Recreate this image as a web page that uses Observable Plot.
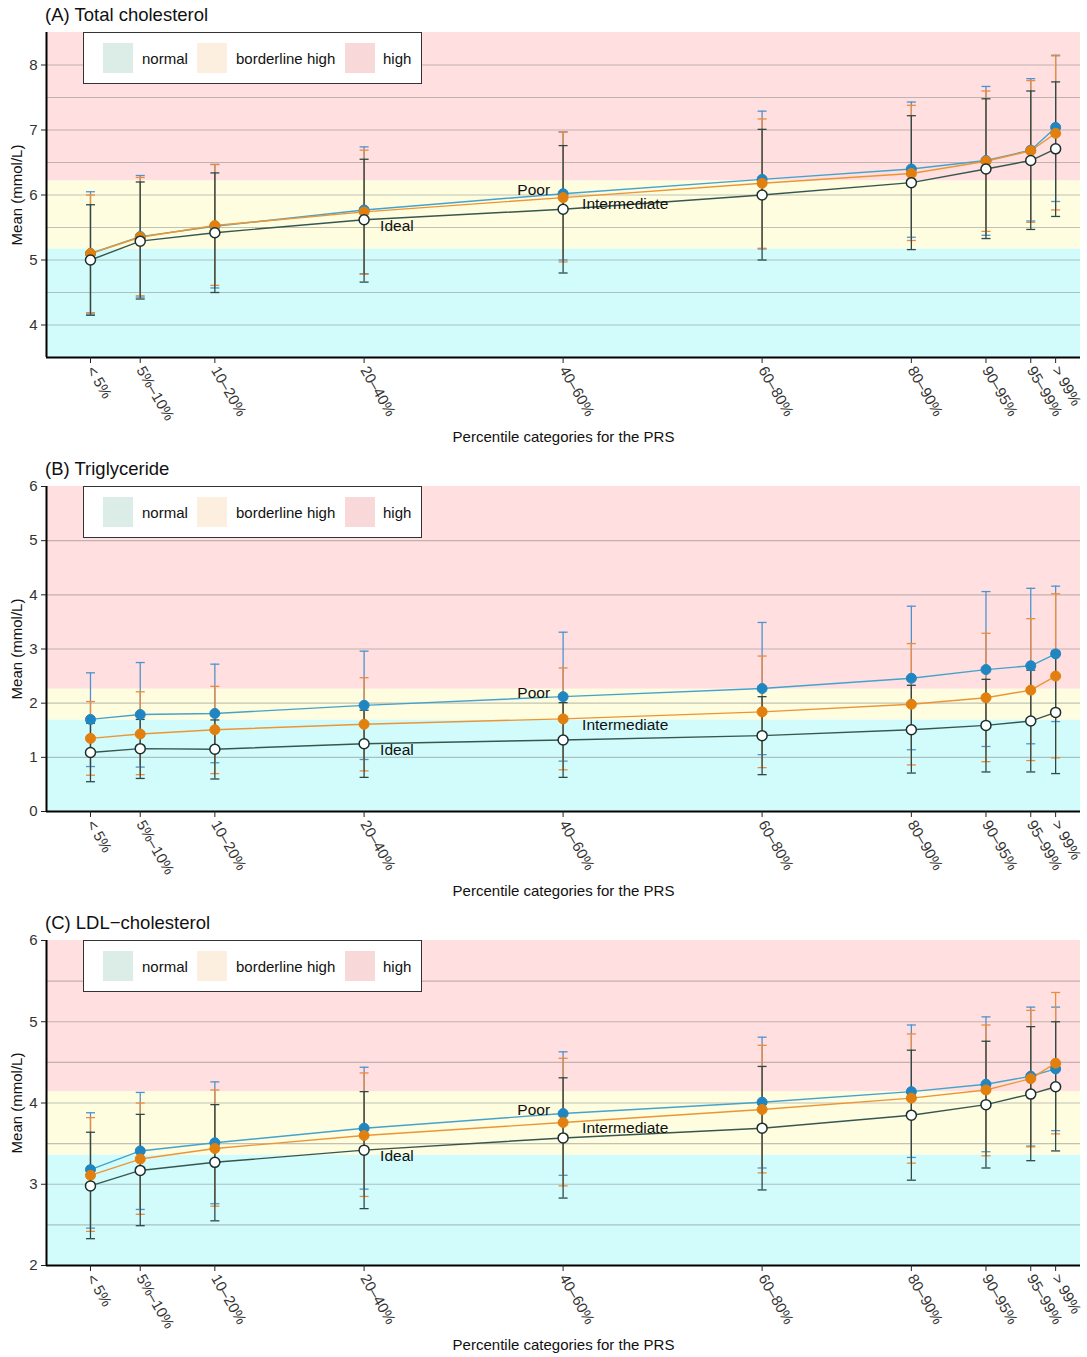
<!DOCTYPE html>
<html>
<head>
<meta charset="utf-8">
<script src="https://cdn.jsdelivr.net/npm/d3@7"></script>
<script src="https://cdn.jsdelivr.net/npm/@observablehq/plot@0.6"></script>
<style>
  html, body { margin: 0; padding: 0; background: #fff; }
  body { width: 1087px; font-family: "Liberation Sans", Arial, Helvetica, sans-serif; }
  .panel { position: relative; width: 1087px; height: 454px; }
  .ptitle { position: absolute; left: 45px; top: 3px; font-size: 18.5px; line-height: 24px; color: #111; }
  .legend { position: absolute; left: 83px; top: 32px; width: 337px; height: 50px; border: 1.5px solid #333; background: #fff; box-sizing: content-box; }
  .sw { position: absolute; top: 10px; width: 30px; height: 30px; }
  .lt { position: absolute; top: 0; line-height: 51px; font-size: 15px; color: #111; }
  .pchart g[aria-label="y-axis tick label"], .pchart g[aria-label="x-axis tick label"] { font-size: 15px; fill: #333; }
  .pchart g[aria-label="y-axis label"], .pchart g[aria-label="x-axis label"] { font-size: 15px; fill: #111; }
</style>
</head>
<body>
<div id="root"></div>
<script>
// ---------- data ----------
const categories = ["< 5%", "5%–10%", "10–20%", "20–40%", "40–60%", "60–80%", "80–90%", "90–95%", "95–99%", "> 99%"];
const categoryPos = [2.5, 7.5, 15, 30, 50, 70, 85, 92.5, 97, 99.5];
const seriesNames = ["Poor", "Intermediate", "Ideal"];

// (A) Total cholesterol
const tcPoorMean = [5.10, 5.36, 5.52, 5.77, 6.02, 6.24, 6.40, 6.53, 6.69, 7.04];
const tcPoorHi   = [6.05, 6.30, 6.47, 6.74, 6.97, 7.29, 7.43, 7.67, 7.79, 8.15];
const tcPoorLo   = [4.17, 4.43, 4.57, 4.79, 5.00, 5.17, 5.35, 5.38, 5.60, 5.90];
const tcIntMean  = [5.10, 5.35, 5.53, 5.74, 5.96, 6.18, 6.33, 6.52, 6.68, 6.95];
const tcIntHi    = [6.00, 6.27, 6.47, 6.69, 6.97, 7.17, 7.38, 7.60, 7.76, 8.14];
const tcIntLo    = [4.19, 4.45, 4.61, 4.78, 4.97, 5.18, 5.30, 5.44, 5.58, 5.77];
const tcIdeMean  = [5.00, 5.29, 5.42, 5.62, 5.78, 6.00, 6.19, 6.40, 6.53, 6.71];
const tcIdeHi    = [5.85, 6.20, 6.34, 6.55, 6.76, 7.01, 7.22, 7.48, 7.60, 7.74];
const tcIdeLo    = [4.15, 4.40, 4.50, 4.66, 4.80, 5.00, 5.16, 5.33, 5.47, 5.67];

// (B) Triglyceride
const tgPoorMean = [1.70, 1.79, 1.81, 1.96, 2.12, 2.27, 2.46, 2.62, 2.69, 2.91];
const tgPoorHi   = [2.56, 2.75, 2.72, 2.96, 3.31, 3.49, 3.79, 4.06, 4.12, 4.16];
const tgPoorLo   = [0.83, 0.82, 0.90, 0.96, 0.93, 1.05, 1.14, 1.20, 1.25, 1.66];
const tgIntMean  = [1.35, 1.43, 1.51, 1.61, 1.71, 1.84, 1.98, 2.10, 2.24, 2.50];
const tgIntHi    = [2.03, 2.21, 2.31, 2.47, 2.65, 2.87, 3.10, 3.29, 3.56, 4.02];
const tgIntLo    = [0.67, 0.68, 0.70, 0.75, 0.77, 0.81, 0.86, 0.92, 0.94, 0.99];
const tgIdeMean  = [1.09, 1.16, 1.15, 1.25, 1.32, 1.40, 1.51, 1.59, 1.67, 1.83];
const tgIdeHi    = [1.63, 1.70, 1.69, 1.87, 2.01, 2.12, 2.33, 2.44, 2.61, 2.96];
const tgIdeLo    = [0.55, 0.61, 0.60, 0.63, 0.63, 0.68, 0.71, 0.73, 0.73, 0.70];

// (C) LDL-cholesterol
const ldlPoorMean = [3.18, 3.41, 3.51, 3.69, 3.87, 4.01, 4.14, 4.23, 4.33, 4.42];
const ldlPoorHi   = [3.88, 4.13, 4.26, 4.44, 4.63, 4.81, 4.96, 5.06, 5.18, 5.18];
const ldlPoorLo   = [2.46, 2.69, 2.76, 2.94, 3.11, 3.20, 3.33, 3.40, 3.47, 3.66];
const ldlIntMean  = [3.11, 3.31, 3.44, 3.60, 3.76, 3.92, 4.06, 4.16, 4.30, 4.49];
const ldlIntHi    = [3.82, 4.00, 4.16, 4.37, 4.55, 4.71, 4.85, 4.96, 5.14, 5.36];
const ldlIntLo    = [2.42, 2.63, 2.73, 2.85, 2.98, 3.14, 3.26, 3.35, 3.46, 3.62];
const ldlIdeMean  = [2.98, 3.17, 3.27, 3.42, 3.57, 3.69, 3.85, 3.98, 4.11, 4.20];
const ldlIdeHi    = [3.64, 3.86, 3.98, 4.14, 4.31, 4.45, 4.65, 4.76, 4.94, 5.00];
const ldlIdeLo    = [2.33, 2.49, 2.55, 2.70, 2.83, 2.93, 3.05, 3.20, 3.29, 3.41];

// thresholds (normal / borderline high / high)
const tcCuts = [5.17, 6.22];
const tgCuts = [1.69, 2.26];
const ldlCuts = [3.36, 4.14];

const tcYDomain = [3.5, 8.5], tcTicks = [4, 5, 6, 7, 8], tcGrid = [4, 4.5, 5, 5.5, 6, 6.5, 7, 7.5, 8];
const tgYDomain = [0, 6], tgTicks = [0, 1, 2, 3, 4, 5, 6], tgGrid = [1, 2, 3, 4, 5];
const ldlYDomain = [2, 6], ldlTicks = [2, 3, 4, 5, 6], ldlGrid = [2.5, 3, 3.5, 4, 4.5, 5, 5.5];
const xDomain = [-1.92, 102.0];

const bandNames = ["normal", "borderline high", "high"];
const bandColors = ["#d2fcfc", "#fefde0", "#ffdfdf"];
const legendColors = ["#dcece7", "#fcefdf", "#f8d8d8"];

const lineColors = ["#44a3cc", "#ec9535", "#36574f"];
const barColors  = ["#4e93cf", "#ee8a3c", "#2f4a46"];
const dotFill    = ["#1f86c2", "#e2800f", "#ffffff"];
const dotStroke  = ["#1f86c2", "#e2800f", "#1a2e2c"];

const panels = [
  { title: "(A) Total cholesterol", yDomain: tcYDomain, ticks: tcTicks, grid: tcGrid, cuts: tcCuts,
    series: [[tcPoorMean, tcPoorLo, tcPoorHi], [tcIntMean, tcIntLo, tcIntHi], [tcIdeMean, tcIdeLo, tcIdeHi]] },
  { title: "(B) Triglyceride", yDomain: tgYDomain, ticks: tgTicks, grid: tgGrid, cuts: tgCuts,
    series: [[tgPoorMean, tgPoorLo, tgPoorHi], [tgIntMean, tgIntLo, tgIntHi], [tgIdeMean, tgIdeLo, tgIdeHi]] },
  { title: "(C) LDL\u2212cholesterol", yDomain: ldlYDomain, ticks: ldlTicks, grid: ldlGrid, cuts: ldlCuts,
    series: [[ldlPoorMean, ldlPoorLo, ldlPoorHi], [ldlIntMean, ldlIntLo, ldlIntHi], [ldlIdeMean, ldlIdeLo, ldlIdeHi]] }
];

const capSymbol = { draw(ctx, size) { const w = 4.5; ctx.moveTo(-w, 0); ctx.lineTo(w, 0); } };
const font = "Liberation Sans, Arial, Helvetica, sans-serif";

const root = document.getElementById("root");

panels.forEach(p => {
  const rows = [];
  p.series.forEach((s, si) => {
    categories.forEach((c, i) => {
      rows.push({ series: seriesNames[si], si, cat: c, x: categoryPos[i], mean: s[0][i], lo: s[1][i], hi: s[2][i] });
    });
  });
  const bands = [
    { name: bandNames[0], y1: p.yDomain[0], y2: p.cuts[0], color: bandColors[0] },
    { name: bandNames[1], y1: p.cuts[0], y2: p.cuts[1], color: bandColors[1] },
    { name: bandNames[2], y1: p.cuts[1], y2: p.yDomain[1], color: bandColors[2] }
  ];
  const find = (series, cat) => rows.filter(r => r.series === series && r.cat === cat);

  const marks = [
    Plot.rect(bands, { y1: "y1", y2: "y2", fill: "color" }),
    Plot.ruleY(p.grid, { stroke: "#7a7a7a", strokeOpacity: 0.45, strokeWidth: 1.2 })
  ];
  [0, 1, 2].forEach(si => {
    const d = rows.filter(r => r.si === si);
    marks.push(Plot.ruleX(d, { x: "x", y1: "lo", y2: "hi", stroke: barColors[si], strokeWidth: 1.3 }));
    marks.push(Plot.dot(d, { x: "x", y: "hi", symbol: capSymbol, stroke: barColors[si], strokeWidth: 1.3, fill: "none" }));
    marks.push(Plot.dot(d, { x: "x", y: "lo", symbol: capSymbol, stroke: barColors[si], strokeWidth: 1.3, fill: "none" }));
  });
  [0, 1, 2].forEach(si => {
    const d = rows.filter(r => r.si === si);
    marks.push(Plot.line(d, { x: "x", y: "mean", stroke: lineColors[si], strokeWidth: 1.4 }));
  });
  [0, 1, 2].forEach(si => {
    const d = rows.filter(r => r.si === si);
    marks.push(Plot.dot(d, { x: "x", y: "mean", r: 5, fill: dotFill[si], stroke: dotStroke[si], strokeWidth: si === 2 ? 1.5 : 1 }));
  });
  marks.push(Plot.text(find("Poor", "40–60%"), { x: "x", y: "mean", text: d => "Poor", textAnchor: "end", dx: -13, dy: -4, fontSize: 15.5, fill: "#111" }));
  marks.push(Plot.text(find("Intermediate", "40–60%"), { x: "x", y: "mean", text: d => "Intermediate", textAnchor: "start", dx: 19, dy: 6, fontSize: 15.5, fill: "#111" }));
  marks.push(Plot.text(find("Ideal", "20–40%"), { x: "x", y: "mean", text: d => "Ideal", textAnchor: "start", dx: 16, dy: 6, fontSize: 15.5, fill: "#111" }));
  marks.push(Plot.ruleX([xDomain[0]], { stroke: "#000", strokeWidth: 2 }));
  marks.push(Plot.ruleY([p.yDomain[0]], { stroke: "#000", strokeWidth: 2 }));
  marks.push(Plot.axisY({ ticks: p.ticks, tickFormat: d3.format("d"), tickSize: 5, tickPadding: 4, fontSize: 15, label: "Mean (mmol/L)", labelAnchor: "center", labelOffset: 35, labelArrow: "none" }));
  marks.push(Plot.axisX({ ticks: categoryPos, tickFormat: (d) => categories[categoryPos.indexOf(d)], tickSize: 6, tickPadding: 4, tickRotate: 60, fontSize: 15, label: "Percentile categories for the PRS", labelAnchor: "center", labelOffset: 84, labelArrow: "none" }));

  const chart = Plot.plot({
    width: 1087,
    height: 430,
    marginLeft: 46,
    marginRight: 7,
    marginTop: 8,
    marginBottom: 97,
    style: { fontFamily: font, fontSize: "15px", color: "#222", background: "transparent" },
    x: { domain: xDomain, label: null },
    y: { domain: p.yDomain, label: null },
    marks
  });

  const div = document.createElement("div");
  div.className = "panel";
  const t = document.createElement("div");
  t.className = "ptitle";
  t.textContent = p.title;
  div.appendChild(t);
  chart.classList.add("pchart");
  chart.style.position = "absolute";
  chart.style.left = "0px";
  chart.style.top = "24px";
  div.appendChild(chart);

  const lg = document.createElement("div");
  lg.className = "legend";
  const swX = [19, 113, 261];
  const txX = [58, 152, 299];
  bandNames.forEach((n, i) => {
    const s = document.createElement("div");
    s.className = "sw";
    s.style.left = swX[i] + "px";
    s.style.background = legendColors[i];
    lg.appendChild(s);
    const tx = document.createElement("div");
    tx.className = "lt";
    tx.style.left = txX[i] + "px";
    tx.textContent = n;
    lg.appendChild(tx);
  });
  div.appendChild(lg);
  root.appendChild(div);
});
</script>
</body>
</html>
